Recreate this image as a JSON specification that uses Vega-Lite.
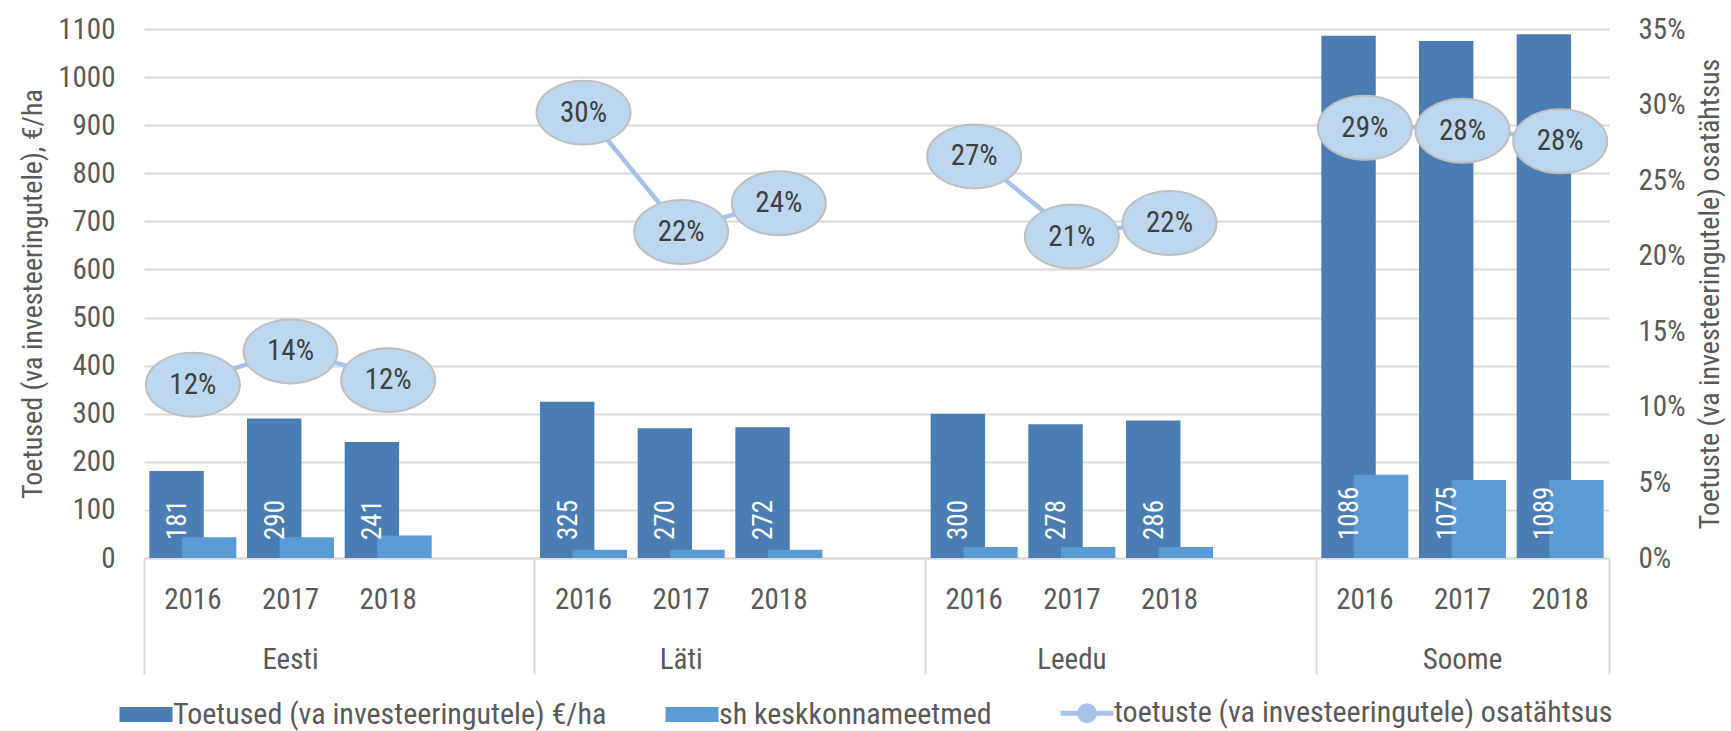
{
  "$schema": "https://vega.github.io/schema/vega-lite/v6.json",
  "width": 1465,
  "height": 529,
  "autosize": {"type": "none"},
  "padding": {"left": 144, "top": 29, "right": 122, "bottom": 173},
  "background": "white",
  "config": {
    "font": "Roboto Condensed, Roboto, sans-serif",
    "view": {"stroke": null},
    "axis": {
      "labelColor": "#595959",
      "titleColor": "#595959",
      "labelFontSize": 29,
      "titleFontSize": 28,
      "titleFontWeight": "normal",
      "gridColor": "#D9D9D9",
      "gridWidth": 2,
      "domainColor": "#D9D9D9",
      "domainWidth": 2,
      "tickColor": "#D9D9D9",
      "tickWidth": 2
    }
  },
  "data": {
    "values": [
      {"cat": "Eesti|2016", "country": "Eesti", "year": "2016", "total": 181, "env": 43, "pct": 0.116},
      {"cat": "Eesti|2017", "country": "Eesti", "year": "2017", "total": 290, "env": 43, "pct": 0.138},
      {"cat": "Eesti|2018", "country": "Eesti", "year": "2018", "total": 241, "env": 47, "pct": 0.119},
      {"cat": "Läti|2016", "country": "Läti", "year": "2016", "total": 325, "env": 17, "pct": 0.296},
      {"cat": "Läti|2017", "country": "Läti", "year": "2017", "total": 270, "env": 17, "pct": 0.217},
      {"cat": "Läti|2018", "country": "Läti", "year": "2018", "total": 272, "env": 17, "pct": 0.236},
      {"cat": "Leedu|2016", "country": "Leedu", "year": "2016", "total": 300, "env": 23, "pct": 0.267},
      {"cat": "Leedu|2017", "country": "Leedu", "year": "2017", "total": 278, "env": 23, "pct": 0.214},
      {"cat": "Leedu|2018", "country": "Leedu", "year": "2018", "total": 286, "env": 23, "pct": 0.223},
      {"cat": "Soome|2016", "country": "Soome", "year": "2016", "total": 1086, "env": 173, "pct": 0.286},
      {"cat": "Soome|2017", "country": "Soome", "year": "2017", "total": 1075, "env": 162, "pct": 0.284},
      {"cat": "Soome|2018", "country": "Soome", "year": "2018", "total": 1089, "env": 162, "pct": 0.277}
    ]
  },
  "layer": [
    {
      "mark": {"type": "bar", "width": {"band": 0.557}, "xOffset": -16.3},
      "encoding": {
        "x": {
          "field": "cat", "type": "nominal",
          "scale": {"domain": ["Eesti|2016", "Eesti|2017", "Eesti|2018", "Eesti|-", "Läti|2016", "Läti|2017", "Läti|2018", "Läti|-", "Leedu|2016", "Leedu|2017", "Leedu|2018", "Leedu|-", "Soome|2016", "Soome|2017", "Soome|2018"], "paddingInner": 0, "paddingOuter": 0},
          "axis": {"orient": "bottom", "title": null, "domain": false, "ticks": false, "tickSize": 0, "grid": false, "labelAngle": 0, "labelPadding": 50, "labelBaseline": "alphabetic", "labelOverlap": false, "labelFlush": false, "labelExpr": "indexof(datum.value, '-') >= 0 ? '' : split(datum.value, '|')[1]"}
        },
        "y": {
          "field": "total", "type": "quantitative",
          "scale": {"domain": [0, 1100], "nice": false},
          "axis": {"orient": "left", "values": [0, 100, 200, 300, 400, 500, 600, 700, 800, 900, 1000, 1100], "format": "d", "title": "Toetused (va investeeringutele), €/ha", "titlePadding": 10, "domain": false, "ticks": false, "tickSize": 0, "labelPadding": 29, "grid": true}
        },
        "color": {
          "datum": "Toetused (va investeeringutele) €/ha", "type": "nominal",
          "scale": {"domain": ["Toetused (va investeeringutele) €/ha", "sh keskkonnameetmed", "toetuste (va investeeringutele) osatähtsus"], "range": ["#4A7DB4", "#5B9BD5", "#A5C3E8"]},
          "legend": {
            "orient": "none", "legendX": -13, "legendY": 669, "direction": "horizontal", "title": null,
            "labelFontSize": 30, "labelColor": "#595959", "labelLimit": 1000, "labelOffset": 12, "columnPadding": 58, "padding": 0,
            "symbolSize": 2809, "symbolType": "M-1,-0.283H1V0.283H-1Z",
            "encode": {"symbols": {"update": {
              "shape": {"signal": "datum.value === 'toetuste (va investeeringutele) osatähtsus' ? 'M-1,0H1M-0.283,0A0.283,0.283,0,1,1,0.283,0A0.283,0.283,0,1,1,-0.283,0Z' : 'M-1,-0.283H1V0.283H-1Z'"},
              "fill": {"scale": "color", "field": "value"},
              "stroke": {"scale": "color", "field": "value"},
              "strokeWidth": {"signal": "datum.value === 'toetuste (va investeeringutele) osatähtsus' ? 5 : 0"},
              "opacity": {"value": 1},
              "fillOpacity": {"value": 1},
              "strokeOpacity": {"value": 1}
            }}}
          }
        }
      }
    },
    {
      "mark": {"type": "bar", "width": {"band": 0.557}, "xOffset": 16.3},
      "encoding": {
        "x": {"field": "cat", "type": "nominal", "axis": {"orient": "bottom", "title": null, "values": ["Eesti|2016", "Läti|2016", "Leedu|2016", "Soome|2016"], "bandPosition": 0, "labels": false, "domain": true, "ticks": true, "tickSize": 116, "grid": false}},
        "y": {"field": "env", "type": "quantitative", "scale": {"domain": [0, 1100], "nice": false}, "axis": null},
        "color": {"datum": "sh keskkonnameetmed", "type": "nominal"}
      }
    },
    {
      "mark": {"type": "text", "angle": 270, "align": "left", "baseline": "middle", "dx": 18, "xOffset": -15, "color": "white", "fontSize": 27},
      "encoding": {
        "x": {"field": "cat", "type": "nominal", "axis": {"orient": "bottom", "title": null, "values": ["Soome|2018"], "bandPosition": 1, "labels": false, "domain": false, "ticks": true, "tickSize": 116, "grid": false}},
        "y": {"datum": 0, "type": "quantitative", "scale": {"domain": [0, 1100], "nice": false}, "axis": null},
        "text": {"field": "total", "type": "quantitative"}
      }
    },
    {
      "mark": {"type": "line", "strokeWidth": 4.5},
      "encoding": {
        "x": {"field": "cat", "type": "nominal", "axis": {"orient": "bottom", "title": null, "values": ["Eesti|2017", "Läti|2017", "Leedu|2017"], "bandPosition": 1, "domain": false, "ticks": false, "tickSize": 0, "grid": false, "labelAngle": 0, "labelPadding": 110, "labelBaseline": "alphabetic", "labelOverlap": false, "labelFlush": false, "labelExpr": "split(datum.value, '|')[0]"}},
        "y": {
          "field": "pct", "type": "quantitative",
          "scale": {"domain": [0, 0.35], "nice": false},
          "axis": {"orient": "right", "values": [0, 0.05, 0.1, 0.15, 0.2, 0.25, 0.3, 0.35], "format": ".0%", "title": "Toetuste (va investeeringutele) osatähtsus", "titleAngle": 270, "titleBaseline": "top", "titlePadding": 12, "domain": false, "ticks": false, "tickSize": 0, "labelPadding": 29, "grid": false}
        },
        "color": {"datum": "toetuste (va investeeringutele) osatähtsus", "type": "nominal"},
        "detail": {"field": "country"}
      }
    },
    {
      "mark": {"type": "point", "shape": "M-1,0A1,0.68,0,1,1,1,0A1,0.68,0,1,1,-1,0Z", "size": 8836, "filled": true, "fill": "#BDD7EE", "stroke": "#BFBFBF", "strokeWidth": 2, "opacity": 1, "yOffset": 2},
      "encoding": {
        "x": {"field": "cat", "type": "nominal", "axis": {"orient": "bottom", "title": null, "values": ["Soome|2017"], "bandPosition": 0.5, "domain": false, "ticks": false, "tickSize": 0, "grid": false, "labelAngle": 0, "labelPadding": 110, "labelBaseline": "alphabetic", "labelOverlap": false, "labelFlush": false, "labelExpr": "split(datum.value, '|')[0]"}},
        "y": {"field": "pct", "type": "quantitative", "scale": {"domain": [0, 0.35], "nice": false}, "axis": null}
      }
    },
    {
      "mark": {"type": "text", "align": "center", "baseline": "middle", "color": "#404040", "fontSize": 29, "yOffset": 2},
      "encoding": {
        "x": {"field": "cat", "type": "nominal", "axis": null},
        "y": {"field": "pct", "type": "quantitative", "scale": {"domain": [0, 0.35], "nice": false}, "axis": null},
        "text": {"field": "pct", "type": "quantitative", "format": ".0%"}
      }
    }
  ],
  "resolve": {"scale": {"y": "independent"}, "axis": {"x": "independent", "y": "independent"}}
}
